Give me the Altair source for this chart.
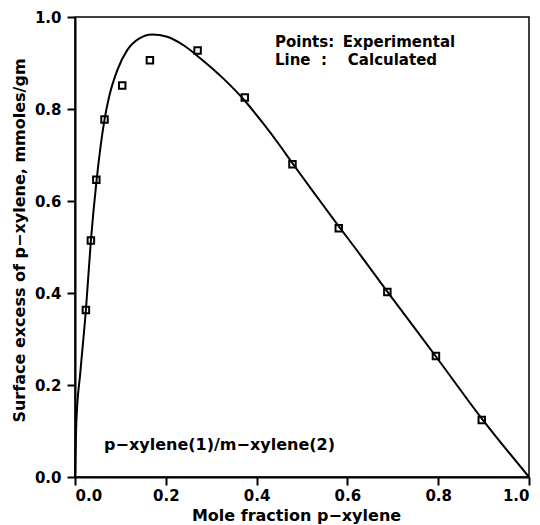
import altair as alt
import pandas as pd

# Experimental surface excess of p-xylene (mmoles/gm) vs mole fraction
exp_x = [0.024, 0.035, 0.047, 0.065, 0.104, 0.165, 0.270, 0.374, 0.479, 0.581, 0.688, 0.795, 0.896]
exp_y = [0.363, 0.514, 0.646, 0.777, 0.851, 0.906, 0.927, 0.825, 0.680, 0.541, 0.402, 0.263, 0.124]

# Calculated isotherm
calc_x = [0.0, 0.003, 0.012, 0.024, 0.035, 0.047, 0.065, 0.075, 0.093, 0.115, 0.141,
          0.170, 0.203, 0.240, 0.275, 0.327, 0.374, 0.415, 0.448, 0.479, 0.530,
          0.581, 0.620, 0.688, 0.795, 0.896, 1.0]
calc_y = [0.0, 0.120, 0.230, 0.363, 0.514, 0.640, 0.777, 0.826, 0.884, 0.928, 0.953,
          0.962, 0.957, 0.938, 0.911, 0.866, 0.818, 0.768, 0.725, 0.682, 0.613,
          0.545, 0.494, 0.403, 0.262, 0.127, 0.0]

axis_ticks = [0.0, 0.2, 0.4, 0.6, 0.8, 1.0]

# Annotation texts with their anchor points in data units
note_text = ["Points:", "Experimental", "Line", ":", "Calculated", "p\u2212xylene(1)/m\u2212xylene(2)"]
note_x = [0.4405, 0.590, 0.4405, 0.542, 0.601, 0.064]
note_y = [0.935, 0.935, 0.896, 0.896, 0.896, 0.059]
note_size = [15, 15, 15, 15, 15, 16]

exp_df = pd.DataFrame({"x": exp_x, "y": exp_y})
calc_df = pd.DataFrame({"x": calc_x, "y": calc_y})
note_df = pd.DataFrame({"x": note_x, "y": note_y, "label": note_text, "size": note_size})

x_enc = alt.X(
    "x:Q",
    scale=alt.Scale(domain=[0, 1], nice=False),
    axis=alt.Axis(
        values=axis_ticks, format=".1f", title="Mole fraction p\u2212xylene",
        titleX=221, titleY=38, titleAlign="center", titleBaseline="middle",
        labelPadding=3,
    ),
)
y_enc = alt.Y(
    "y:Q",
    scale=alt.Scale(domain=[0, 1], nice=False),
    axis=alt.Axis(
        values=axis_ticks, format=".1f", title="Surface excess of p\u2212xylene, mmoles/gm",
        titleX=-56, titleY=223, titleAngle=270, titleAlign="center", titleBaseline="middle",
        labelPadding=6,
    ),
)

curve = alt.Chart(calc_df).mark_line(
    color="black", strokeWidth=2, interpolate="monotone"
).encode(x=x_enc, y=y_enc)

points = alt.Chart(exp_df).mark_point(
    shape="square", size=42, filled=False, color="black", strokeWidth=2, opacity=1
).encode(x=x_enc, y=y_enc)

notes = alt.Chart(note_df).mark_text(
    align="left", baseline="alphabetic", font="DejaVu Sans", fontWeight="bold", color="black"
).encode(
    x=x_enc, y=y_enc, text="label:N",
    size=alt.Size("size:Q", scale=None, legend=None),
)

chart = (
    alt.layer(curve, points, notes)
    .properties(
        width=454, height=460,
        padding={"left": 75, "top": 17, "right": 11, "bottom": 48},
        autosize="none",
        background="white",
    )
    .configure_view(stroke="black", strokeWidth=1.5)
    .configure_axis(
        grid=False,
        domainColor="black", domainWidth=2,
        tickColor="black", tickWidth=2, tickSize=8,
        labelFont="DejaVu Sans", labelFontWeight="bold", labelFontSize=15, labelColor="black",
        titleFont="DejaVu Sans", titleFontWeight="bold", titleFontSize=16, titleColor="black",
    )
)

chart.save("out.html", embed_options={"renderer": "svg", "actions": False})
